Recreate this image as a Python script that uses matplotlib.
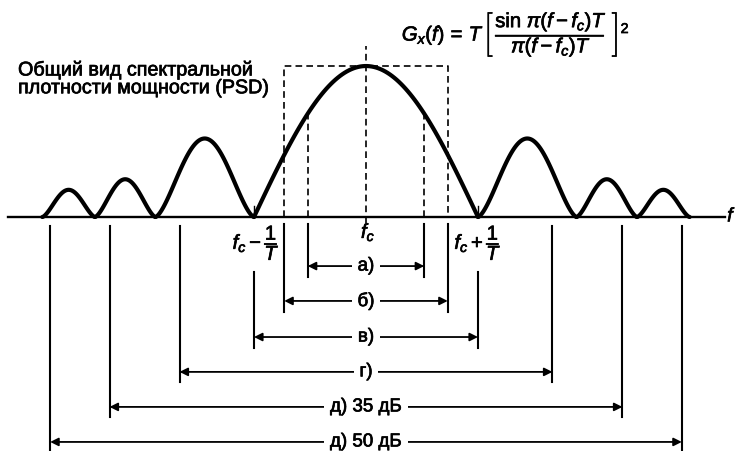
import numpy as np
import matplotlib
matplotlib.use('Agg')
import matplotlib.pyplot as plt
import matplotlib.patheffects as pe

plt.rcParams['font.family'] = ['Liberation Sans', 'DejaVu Sans']
plt.rcParams['mathtext.fontset'] = 'custom'
plt.rcParams['mathtext.rm'] = 'Liberation Sans'
plt.rcParams['mathtext.it'] = 'Liberation Sans:italic'
plt.rcParams['mathtext.bf'] = 'Liberation Sans:bold'

# частота в единицах 1/T относительно fc, высота - относительно главного лепестка
null_pos = [1.0, 1.88, 2.42, 2.89]        # нули спектра справа от fc (слева - симметрично)
lobe_height = [1.0, 0.52, 0.25, 0.18]     # главный лепесток и боковые
box_half = 0.73                           # прямоугольник равной мощности
half_power = 0.52                         # полоса по уровню половинной мощности
center_line_top = 1.13

dim_labels = ['а)', 'б)', 'в)', 'г)', 'д) 35 дБ', 'д) 50 дБ']
dim_half = [0.52, 0.73, 1.0, 1.665, 2.29, 2.82]
dim_rows = [-0.325, -0.556, -0.795, -1.026, -1.258, -1.49]
dim_top = [-0.046, -0.046, -0.364, -0.06, -0.06, -0.06]

# чуть утолщённый шрифт
heavy = [pe.withStroke(linewidth=0.5, foreground='black')]


def lobe(a, b, h, p=1.0, n=100):
    u = np.linspace(a, b, n)
    return u, h * np.sin(np.pi * (u - a) / (b - a)) ** p


fig = plt.figure(figsize=(7.35, 4.52), dpi=100)
ax = fig.add_axes([0, 0, 1, 1])
ax.set_xlim(-3.268, 3.295)
ax.set_ylim(-1.55, 1.444)
ax.axis('off')

curve = dict(color='black', lw=3.0, solid_capstyle='round', solid_joinstyle='round')

# кривая СПМ: главный лепесток + боковые с обеих сторон
u, g = lobe(-null_pos[0], null_pos[0], lobe_height[0])
ax.plot(u, g, **curve)
for i in range(1, len(null_pos)):
    for s in (-1, 1):
        a, b = sorted((s * null_pos[i - 1], s * null_pos[i]))
        u, g = lobe(a, b, lobe_height[i], p=1.5)
        ax.plot(u, g, **curve)

# ось частот
ax.plot([-3.2, 3.21], [0, 0], color='black', lw=1.7)
ax.text(3.225, 0, '$f$', fontsize=14, ha='left', va='center', path_effects=heavy)

# отметки нулей fc +- 1/T
for s in (-1, 1):
    ax.plot([s * null_pos[0]] * 2, [0, 0.07], color='black', lw=1.0)

dash = dict(color='black', lw=1.2, ls=(0, (4, 2.5)))
ax.plot([0, 0], [-0.04, center_line_top], **dash)
ax.plot([-box_half, -box_half, box_half, box_half], [0, lobe_height[0], lobe_height[0], 0], **dash)
hp_level = lobe_height[0] * np.sin(np.pi * (half_power + 1) / 2)
for s in (-1, 1):
    ax.plot([s * half_power] * 2, [0, hp_level], **dash)

# подписи частот
ax.text(0.02, -0.1, '$f_c$', fontsize=14.5, ha='center', va='center', path_effects=heavy)
ax.text(-0.77, -0.17, r'$f_c - \dfrac{1}{T}$', fontsize=14.5, ha='right', va='center',
        path_effects=heavy)
ax.text(0.79, -0.17, r'$f_c + \dfrac{1}{T}$', fontsize=14.5, ha='left', va='center',
        path_effects=heavy)

ax.text(0.32, 1.21, r'$G_x(f)\,=\,T\,\left[\,\dfrac{\sin\,\pi(f - f_c)T}{\pi(f - f_c)T}\,\,\right]^2$',
        fontsize=14.6, ha='left', va='center', path_effects=heavy)
ax.text(-3.107, 0.915, 'Общий вид спектральной\nплотности мощности (PSD)',
        fontsize=14.2, ha='left', va='center', linespacing=0.92, path_effects=heavy)

# размерные линии ширины полосы
for lab, hw, row, top in zip(dim_labels, dim_half, dim_rows, dim_top):
    for s in (-1, 1):
        ax.plot([s * hw] * 2, [top, row - 0.07], color='black', lw=1.5)
    ax.annotate('', xy=(hw, row), xytext=(-hw, row),
                arrowprops=dict(arrowstyle='<|-|>', color='black', lw=1.3,
                                mutation_scale=12, shrinkA=0, shrinkB=0))
    ax.text(0, row, lab, fontsize=13.5, ha='center', va='center', path_effects=heavy,
            bbox=dict(facecolor='white', edgecolor='none', pad=4))

fig.savefig('out.png', dpi=100)
